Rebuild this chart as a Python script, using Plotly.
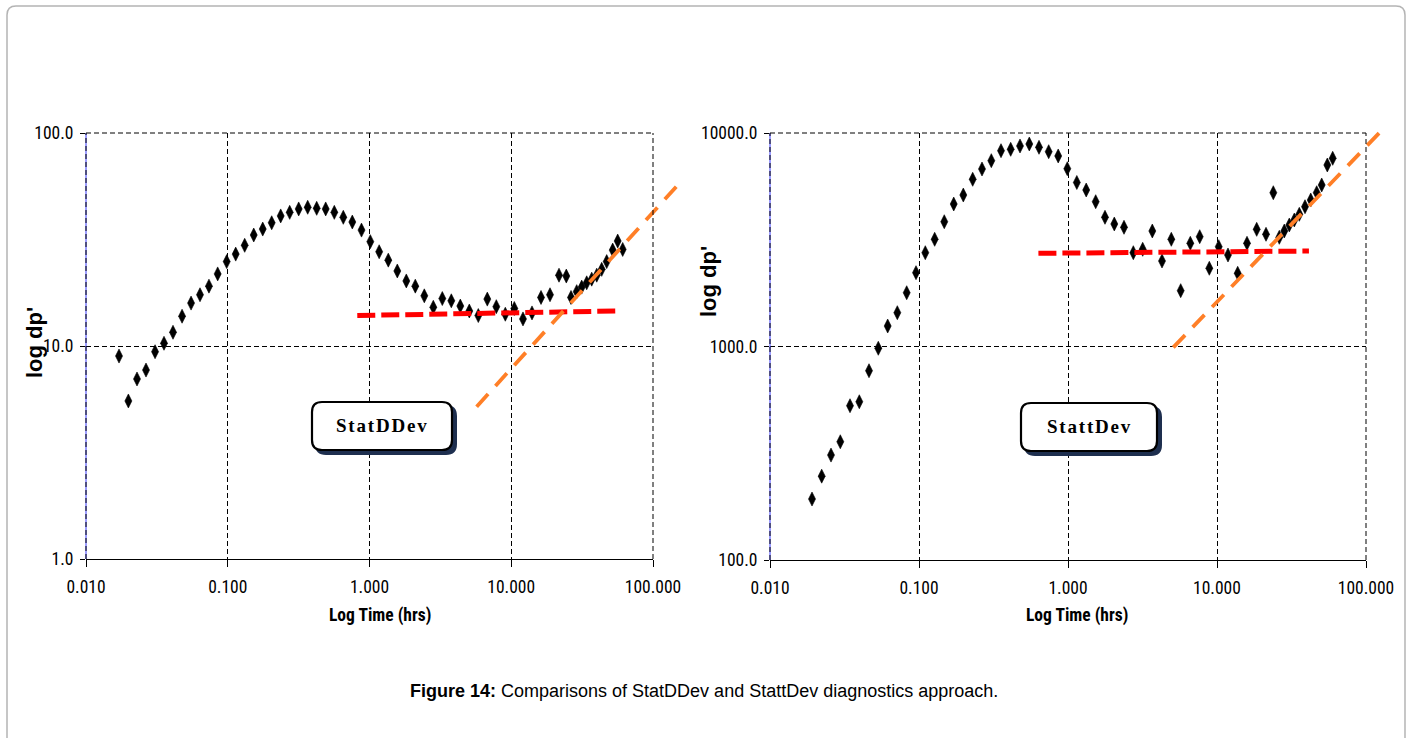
import plotly.graph_objects as go

W, H = 1413, 738

# ---------------- data ----------------
# Left panel: StatDDev
t_left = [0.0171, 0.0199, 0.0229, 0.0265, 0.0307, 0.0355, 0.0411, 0.0476, 0.0551, 0.0637,
          0.0737, 0.0849, 0.0983, 0.1138, 0.1317, 0.1525, 0.1765, 0.2042, 0.2363, 0.2735,
          0.3165, 0.3664, 0.4241, 0.4909, 0.5645, 0.6533, 0.7562, 0.878, 1.013, 1.170,
          1.357, 1.571, 1.818, 2.104, 2.436, 2.819, 3.263, 3.777, 4.371, 5.059,
          5.855, 6.776, 7.845, 9.078, 10.51, 12.10, 14.01, 16.22, 18.77, 21.73,
          24.45, 26.39, 28.95, 31.41, 34.07, 36.95, 40.09, 43.46, 47.14, 51.96,
          56.36, 61.13]
dp_left = [8.97, 5.52, 7.0, 7.71, 9.4, 10.3, 11.6, 13.8, 15.9, 17.4,
           19.1, 21.8, 24.9, 27.0, 29.7, 33.2, 35.4, 37.9, 40.8, 42.4,
           44.0, 44.8, 44.3, 44.0, 42.4, 40.2, 38.2, 35.0, 30.9, 27.7,
           25.3, 22.5, 20.2, 19.1, 17.2, 15.2, 16.7, 16.3, 15.4, 14.6,
           13.9, 16.6, 15.3, 14.1, 15.0, 13.4, 14.3, 16.9, 17.4, 21.5,
           21.3, 16.9, 18.0, 18.9, 19.8, 20.6, 21.5, 22.9, 24.9, 28.2,
           31.1, 28.4]
red_left_t = [0.82, 55.4]
red_left_dp = [13.9, 14.6]
orange_left_t = [5.70, 147.5]
orange_left_dp = [5.19, 56.4]

# Right panel: StattDev
t_right = [0.01914, 0.02223, 0.02567, 0.02963, 0.03443, 0.03975, 0.04618, 0.05331, 0.06163, 0.07153,
           0.08268, 0.09548, 0.1102, 0.1274, 0.1478, 0.1710, 0.1983, 0.2293, 0.2648, 0.3057,
           0.3551, 0.4125, 0.4763, 0.5498, 0.6389, 0.7421, 0.8594, 0.9892, 1.146, 1.325,
           1.534, 1.771, 2.045, 2.376, 2.744, 3.172, 3.680, 4.275, 4.935, 5.706,
           6.620, 7.655, 8.878, 10.27, 11.85, 13.77, 15.90, 18.47, 21.33, 23.87,
           26.19, 28.29, 30.57, 33.03, 35.67, 38.96, 42.56, 46.68, 50.44, 55.00,
           59.77]
dp_right = [193, 247, 310, 358, 528, 551, 770, 981, 1247, 1440,
            1786, 2217, 2750, 3178, 3841, 4650, 5123, 6070, 6782, 7420,
            8263, 8387, 8694, 8882, 8570, 8174, 7805, 6804, 5864, 5408,
            4767, 4029, 3748, 3617, 2750, 2853, 3475, 2515, 3178, 1826,
            3044, 3268, 2325, 2934, 2683, 2202, 3044, 3538, 3354, 5252,
            3247, 3475, 3708, 3913, 4160, 4516, 4856, 5252, 5708, 7081,
            7611]
red_right_t = [0.633, 41.4]
red_right_dp = [2733, 2799]
orange_right_t = [5.09, 132.0]
orange_right_dp = [991, 10550]

x_tickvals = [0.01, 0.1, 1, 10, 100]
x_ticktext = ["0.010", "0.100", "1.000", "10.000", "100.000"]
yl_tickvals = [1, 10, 100]
yl_ticktext = ["1.0", "10.0", "100.0"]
yr_tickvals = [100, 1000, 10000]
yr_ticktext = ["100.0", "1000.0", "10000.0"]

# ---------------- layout geometry (pixels) ----------------
def px(x):
    return x / W

def py(y):
    return 1 - y / H

L = dict(x0=86, x1=653, y0=133, y1=559)     # left plot area
R = dict(x0=770, x1=1366, y0=133, y1=560)   # right plot area

NARROW = "Liberation Sans Narrow, Arial Narrow, Roboto Condensed, Liberation Sans"
tickfont = dict(family=NARROW, size=17.5, color="black")

fig = go.Figure()

marker = dict(symbol="diamond-tall", size=10, color="black", line=dict(width=0.6, color="black"))

fig.add_trace(go.Scatter(x=t_left, y=dp_left, mode="markers", marker=marker,
                         xaxis="x", yaxis="y", showlegend=False))
fig.add_trace(go.Scatter(x=red_left_t, y=red_left_dp, mode="lines",
                         line=dict(color="#ff0000", width=5, dash="18px,6px"),
                         xaxis="x", yaxis="y", showlegend=False))
fig.add_trace(go.Scatter(x=t_right, y=dp_right, mode="markers", marker=marker,
                         xaxis="x2", yaxis="y2", showlegend=False))
fig.add_trace(go.Scatter(x=red_right_t, y=red_right_dp, mode="lines",
                         line=dict(color="#ff0000", width=5, dash="18px,6px"),
                         xaxis="x2", yaxis="y2", showlegend=False))
# orange lines extend beyond the plot frame -> drawn on wider hidden axes of same scale
fig.add_trace(go.Scatter(x=orange_left_t, y=orange_left_dp, mode="lines",
                         line=dict(color="#ff7f27", width=3.8, dash="17px,11px"),
                         xaxis="x3", yaxis="y3", showlegend=False))
fig.add_trace(go.Scatter(x=orange_right_t, y=orange_right_dp, mode="lines",
                         line=dict(color="#ff7f27", width=3.8, dash="17px,11px"),
                         xaxis="x4", yaxis="y4", showlegend=False))

grid = dict(showgrid=True, gridcolor="black", gridwidth=1, griddash="5px,3px", zeroline=False)

def xax(P, anchor):
    return dict(domain=[px(P["x0"]), px(P["x1"])], type="log", range=[-2, 2], anchor=anchor,
                tickvals=x_tickvals, ticktext=x_ticktext, tickfont=tickfont, automargin=False,
                showline=True, linecolor="black", linewidth=1, ticks="outside", ticklen=7,
                tickcolor="black", ticklabelstandoff=5, **grid)

def yax(P, anchor, rng, tv, tt):
    return dict(domain=[py(P["y1"]), py(P["y0"])], type="log", range=rng, anchor=anchor,
                tickvals=tv, ticktext=tt, tickfont=tickfont, showline=False, automargin=False,
                ticks="outside", ticklen=5, tickcolor="black", ticklabelstandoff=3, **grid)

# hidden extended axes (same log scale in pixels per decade)
dl_x = (L["x1"] - L["x0"]) / 4.0
dl_y = (L["y1"] - L["y0"]) / 2.0
dr_x = (R["x1"] - R["x0"]) / 4.0
dr_y = (R["y1"] - R["y0"]) / 2.0
ext_l = dict(x1=700, y0=100)
ext_r = dict(x1=1405, y0=100)

fig.update_layout(
    width=W, height=H, autosize=False,
    margin=dict(l=0, r=0, t=0, b=0, pad=0, autoexpand=False),
    paper_bgcolor="white", plot_bgcolor="rgba(0,0,0,0)",
    showlegend=False,
    xaxis=xax(L, "y"),
    yaxis=yax(L, "x", [0, 2], yl_tickvals, yl_ticktext),
    xaxis2=xax(R, "y2"),
    yaxis2=yax(R, "x2", [2, 4], yr_tickvals, yr_ticktext),
    xaxis3=dict(domain=[px(L["x0"]), px(ext_l["x1"])], type="log", automargin=False,
                range=[-2, -2 + (ext_l["x1"] - L["x0"]) / dl_x], anchor="y3", visible=False),
    yaxis3=dict(domain=[py(L["y1"]), py(ext_l["y0"])], type="log", automargin=False,
                range=[0, (L["y1"] - ext_l["y0"]) / dl_y], anchor="x3", visible=False),
    xaxis4=dict(domain=[px(R["x0"]), px(ext_r["x1"])], type="log", automargin=False,
                range=[-2, -2 + (ext_r["x1"] - R["x0"]) / dr_x], anchor="y4", visible=False),
    yaxis4=dict(domain=[py(R["y1"]), py(ext_r["y0"])], type="log", automargin=False,
                range=[2, 2 + (R["y1"] - ext_r["y0"]) / dr_y], anchor="x4", visible=False),
)

shapes = []

def rounded_path(x0, y0, x1, y1, r):
    # pixel coords (top-left origin) -> paper path with rounded corners
    def P(x, y):
        return f"{px(x):.6f},{py(y):.6f}"
    return (f"M{P(x0 + r, y0)} L{P(x1 - r, y0)} Q{P(x1, y0)} {P(x1, y0 + r)} "
            f"L{P(x1, y1 - r)} Q{P(x1, y1)} {P(x1 - r, y1)} "
            f"L{P(x0 + r, y1)} Q{P(x0, y1)} {P(x0, y1 - r)} "
            f"L{P(x0, y0 + r)} Q{P(x0, y0)} {P(x0 + r, y0)} Z")

# outer figure frame
shapes.append(dict(type="path", xref="paper", yref="paper",
                   path=rounded_path(7, 6, 1405, 760, 9),
                   line=dict(color="#b4b4b4", width=1.5), fillcolor="rgba(0,0,0,0)"))

# plot frames (dashed top/right/left, left also blue)
for P in (L, R):
    shapes.append(dict(type="line", xref="paper", yref="paper",
                       x0=px(P["x0"]), x1=px(P["x0"]), y0=py(P["y1"]), y1=py(P["y0"]),
                       line=dict(color="#3a3aff", width=1)))
    shapes.append(dict(type="line", xref="paper", yref="paper",
                       x0=px(P["x0"]), x1=px(P["x0"]), y0=py(P["y1"]), y1=py(P["y0"]),
                       line=dict(color="black", width=1, dash="5px,3px")))
    shapes.append(dict(type="line", xref="paper", yref="paper",
                       x0=px(P["x0"]), x1=px(P["x1"]), y0=py(P["y0"]), y1=py(P["y0"]),
                       line=dict(color="black", width=1, dash="5px,3px")))
    shapes.append(dict(type="line", xref="paper", yref="paper",
                       x0=px(P["x1"]), x1=px(P["x1"]), y0=py(P["y1"]), y1=py(P["y0"]),
                       line=dict(color="black", width=1, dash="5px,3px")))

# label boxes with shadow
boxes = [(312, 402, 452, 450, "StatDDev"), (1021, 403, 1157, 451, "StattDev")]
for (bx0, by0, bx1, by1, _) in boxes:
    shapes.append(dict(type="path", xref="paper", yref="paper",
                       path=rounded_path(bx0 + 4, by0 + 4, bx1 + 4, by1 + 4, 10),
                       line=dict(color="#1e2f4f", width=2), fillcolor="#1e2f4f"))
    shapes.append(dict(type="path", xref="paper", yref="paper",
                       path=rounded_path(bx0, by0, bx1, by1, 10),
                       line=dict(color="black", width=2.2), fillcolor="white"))

annotations = []
for (bx0, by0, bx1, by1, label) in boxes:
    annotations.append(dict(x=px((bx0 + bx1) / 2), y=py((by0 + by1) / 2 - 1), xref="paper", yref="paper",
                            text=f'<b><span style="letter-spacing:1.8px">{label}</span></b>',
                            showarrow=False,
                            font=dict(family="Liberation Serif, Times New Roman, serif", size=19, color="black"),
                            xanchor="center", yanchor="middle"))

# axis titles
for cx in (380, 1077):
    annotations.append(dict(x=px(cx), y=py(615), xref="paper", yref="paper", text="<b>Log Time (hrs)</b>",
                            showarrow=False, font=dict(family=NARROW, size=17.5, color="black"),
                            xanchor="center", yanchor="middle"))
for (cx, cy) in ((35, 343), (708, 282)):
    annotations.append(dict(x=px(cx), y=py(cy), xref="paper", yref="paper", text="<b>log dp'</b>",
                            showarrow=False, textangle=-90,
                            font=dict(family="Liberation Sans, Arial, sans-serif", size=22, color="black"),
                            xanchor="center", yanchor="middle"))

# caption
annotations.append(dict(x=px(704), y=py(691), xref="paper", yref="paper",
                        text="<b>Figure 14:</b> Comparisons of StatDDev and StattDev diagnostics approach.",
                        showarrow=False,
                        font=dict(family="Liberation Sans, Arial, sans-serif", size=18, color="black"),
                        xanchor="center", yanchor="middle"))

fig.update_layout(shapes=shapes, annotations=annotations)

fig.write_html("out.html")
